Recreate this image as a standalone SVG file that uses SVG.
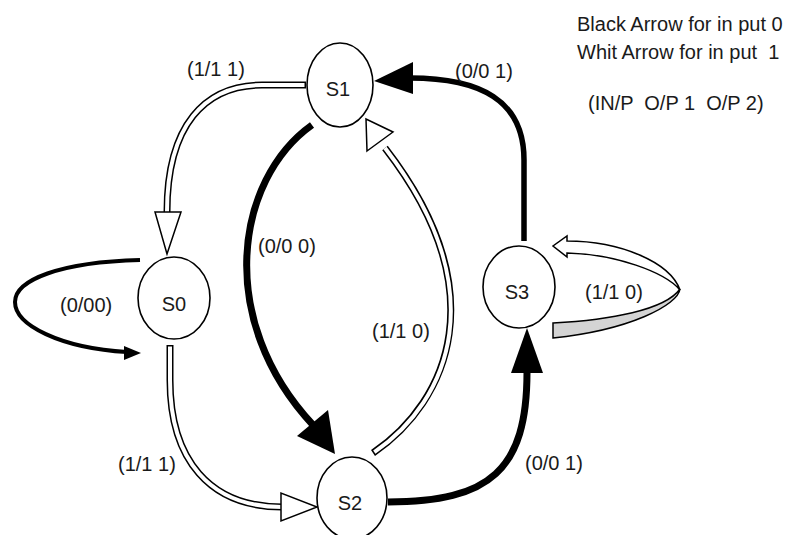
<svg xmlns="http://www.w3.org/2000/svg" width="788" height="535" viewBox="0 0 788 535">
<style>
text{font-family:"Liberation Sans",Arial,sans-serif;font-size:20px;fill:#1a1a1a}
.nd{fill:#fff;stroke:#000;stroke-width:1.6}
.blk{fill:none;stroke:#000}
.ho{fill:none;stroke:#000;stroke-width:7}
.hi{fill:none;stroke:#fff;stroke-width:4}
.hb{fill:#000}
.hw{fill:#fff;stroke:#000;stroke-width:1.5;stroke-linejoin:miter}
.nl{text-anchor:middle}
</style>
<rect width="788" height="535" fill="#fff"/>
<g id="connectors">
  <g id="e-s1-s0">
    <path class="ho" stroke-width="5.5" d="M 306 85 L 262 85 C 205 85 167 125 167 212"/>
    <path class="hi" stroke-width="2.5" d="M 304.5 85 L 262 85 C 205 85 167 125 167 212"/>
    <polygon class="hw" points="155,212 181,212 167,254"/>
  </g>
  <g id="e-s1-s2">
    <path class="blk" stroke-width="7" d="M 312 125 C 235 180 215 320 313 425"/>
    <polygon class="hb" points="297,436 328,410 335,454"/>
  </g>
  <g id="e-s2-s1">
    <path class="ho" d="M 373 453 C 450 400 495 290 385 148"/>
    <path class="hi" d="M 374.3 452.2 C 450 400 495 290 385 148"/>
    <polygon class="hw" points="367,151 393,132 366,119"/>
  </g>
  <g id="e-s3-s1">
    <path class="blk" stroke-width="5.5" d="M 524 241 L 524 160 C 524 100 480 78 410 78"/>
    <polygon class="hb" points="413,62 413,94 374,81"/>
  </g>
  <g id="e-s2-s3">
    <path class="blk" stroke-width="7" d="M 388 502 C 490 502 527 470 527 372"/>
    <polygon class="hb" points="511,373 543,373 527,328"/>
  </g>
  <g id="e-s0-s0">
    <path class="blk" stroke-width="4" d="M 140 260 C 60 262 15 280 15 302 C 15 325 60 348 127 352"/>
    <polygon class="hb" points="124,346 124,360 141,353"/>
  </g>
  <g id="e-s0-s2">
    <path class="ho" d="M 170 345 L 170 380 C 170 460 210 507 282 507"/>
    <path class="hi" d="M 170 346.5 L 170 380 C 170 460 210 507 282 507"/>
    <polygon class="hw" points="281,493 281,521 317,507"/>
  </g>
  <g id="e-s3-s3">
    <path fill="#d4d4d4" stroke="#000" stroke-width="1.5" d="M 553 323 C 610 320 665 310 680 289 C 678 305 630 330 553 338 Z"/>
    <path class="hw" d="M 680 290 C 670 262 620 241 567 241 L 567 236 L 553 246 L 567 257 L 567 253 C 615 254 665 272 680 290 Z"/>
  </g>
  <g id="edge-labels">
    <text x="187" y="76">(1/1 1)</text>
    <text x="258" y="253">(0/0 0)</text>
    <text x="60" y="312">(0/00)</text>
    <text x="118" y="471">(1/1 1)</text>
    <text x="372" y="338">(1/1 0)</text>
    <text x="455" y="78">(0/0 1)</text>
    <text x="585" y="299">(1/1 0)</text>
    <text x="525" y="470">(0/0 1)</text>
  </g>
</g>
<g id="S1"><ellipse class="nd" cx="340" cy="85" rx="33" ry="42"/><text class="nl" x="338" y="96">S1</text></g>
<g id="S0"><ellipse class="nd" cx="174" cy="298" rx="36" ry="41"/><text class="nl" x="174" y="311">S0</text></g>
<g id="S2"><ellipse class="nd" cx="352" cy="498" rx="35" ry="41"/><text class="nl" x="350" y="510">S2</text></g>
<g id="S3"><ellipse class="nd" cx="519" cy="287" rx="36" ry="41"/><text class="nl" x="517" y="299">S3</text></g>
<g id="legend">
  <text x="577" y="31" xml:space="preserve">Black Arrow for in put 0</text>
  <text x="577" y="59" xml:space="preserve">Whit Arrow for in put  1</text>
  <text x="588" y="110" xml:space="preserve">(IN/P  O/P 1  O/P 2)</text>
</g>
</svg>
